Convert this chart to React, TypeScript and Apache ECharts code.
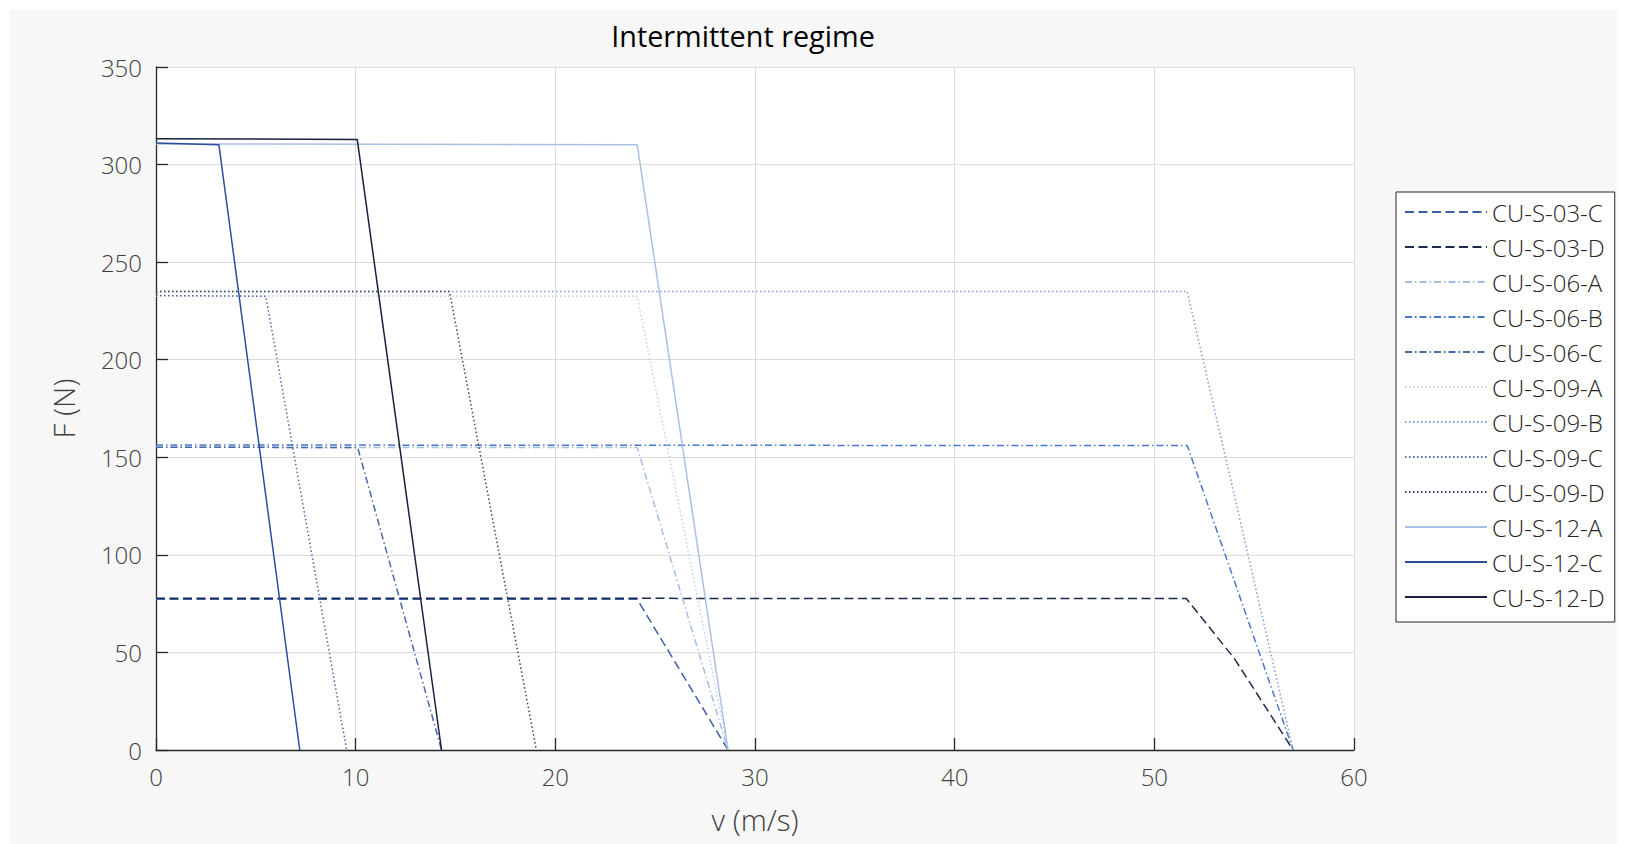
import React, { useEffect, useRef } from "react";
import * as echarts from "echarts";

// ---- data (v in m/s, F in N) ----
const seriesNames = [
  "CU-S-03-C",
  "CU-S-03-D",
  "CU-S-06-A",
  "CU-S-06-B",
  "CU-S-06-C",
  "CU-S-09-A",
  "CU-S-09-B",
  "CU-S-09-C",
  "CU-S-09-D",
  "CU-S-12-A",
  "CU-S-12-C",
  "CU-S-12-D",
];

const cuS03C: [number, number][] = [[0, 77.2], [24.1, 77.2], [28.65, 0]];
const cuS03D: [number, number][] = [[0, 77.8], [51.6, 77.6], [54.0, 47], [56.95, 0]];
const cuS06A: [number, number][] = [[0, 155.1], [24.1, 155.0], [28.65, 0]];
const cuS06B: [number, number][] = [[0, 156.3], [51.65, 156.0], [56.95, 0]];
const cuS06C: [number, number][] = [[0, 155.2], [10.1, 155.0], [14.3, 0]];
const cuS09A: [number, number][] = [[0, 232.7], [24.1, 232.5], [28.65, 0]];
const cuS09B: [number, number][] = [[0, 234.9], [51.65, 234.9], [56.95, 0]];
const cuS09C: [number, number][] = [[0, 232.9], [5.5, 232.5], [9.55, 0]];
const cuS09D: [number, number][] = [[0, 235.0], [14.7, 234.9], [19.05, 0]];
const cuS12A: [number, number][] = [[0, 310.6], [24.1, 310.2], [28.65, 0]];
const cuS12C: [number, number][] = [[0, 311.0], [3.15, 310.2], [7.2, 0]];
const cuS12D: [number, number][] = [[0, 313.2], [10.08, 312.9], [14.3, 0]];

const seriesData = [
  cuS03C, cuS03D, cuS06A, cuS06B, cuS06C, cuS09A,
  cuS09B, cuS09C, cuS09D, cuS12A, cuS12C, cuS12D,
];

const xTicks = { min: 0, max: 60, interval: 10 };
const yTicks = { min: 0, max: 350, interval: 50 };

// ---- styles ----
const DASH = [9, 4.5];
const DASHDOT = [7, 3, 1.5, 3];
const DOT = [1.5, 2.5];
const seriesColors = [
  "#3a5ea8", "#1e2b4f", "#a3bde8", "#4877d0", "#4a68a8", "#bcd0f2",
  "#7d9be0", "#4d68a8", "#3a4460", "#a9c0e6", "#2b4e9a", "#17213f",
];
const seriesDash = [
  DASH, DASH, DASHDOT, DASHDOT, DASHDOT, DOT,
  DOT, DOT, DOT, "solid", "solid", "solid",
];

const FONT = "'Open Sans', sans-serif";
const WEIGHT = 300;

export default function App() {
  const ref = useRef<HTMLDivElement>(null);

  useEffect(() => {
    if (!ref.current) return;
    const chart = echarts.init(ref.current, undefined, { renderer: "svg" });
    chart.setOption({
      animation: false,
      backgroundColor: "#f7f7f7",
      textStyle: { fontFamily: FONT },
      title: {
        text: "Intermittent regime",
        left: 733,
        top: 11,
        textAlign: "center",
        padding: 0,
        textStyle: {
          fontFamily: FONT,
          fontSize: 28.8,
          fontWeight: "normal",
          color: "#000000",
        },
      },
      grid: {
        left: 146,
        top: 57,
        width: 1198,
        height: 683,
        show: true,
        backgroundColor: "#ffffff",
        borderWidth: 0,
      },
      legend: {
        orient: "vertical",
        left: 1386,
        top: 182,
        padding: [7, 10, 12, 8],
        backgroundColor: "#ffffff",
        borderColor: "#262626",
        borderWidth: 1,
        itemWidth: 82,
        itemHeight: 14,
        itemGap: 9.0,
        data: seriesNames,
        itemStyle: { opacity: 0, borderWidth: 0 },
        textStyle: {
          fontFamily: FONT,
          fontSize: 24,
          fontWeight: WEIGHT,
          lineHeight: 26,
          color: "#262626",
        },
      },
      xAxis: {
        type: "value",
        min: xTicks.min,
        max: xTicks.max,
        interval: xTicks.interval,
        name: "v (m/s)",
        nameLocation: "middle",
        nameGap: 54,
        nameTextStyle: { fontFamily: FONT, fontSize: 29.5, fontWeight: WEIGHT, color: "#404040" },
        axisLine: { show: true, lineStyle: { color: "#262626", width: 1.3 } },
        axisTick: { show: true, inside: true, length: 12, lineStyle: { color: "#262626", width: 1.3 } },
        axisLabel: { fontFamily: FONT, fontSize: 24, fontWeight: WEIGHT, color: "#404040", margin: 14 },
        splitLine: { show: true, lineStyle: { color: "#dcdcdc", width: 1 } },
      },
      yAxis: {
        type: "value",
        min: yTicks.min,
        max: yTicks.max,
        interval: yTicks.interval,
        name: "F (N)",
        nameLocation: "middle",
        nameGap: 78,
        nameTextStyle: { fontFamily: FONT, fontSize: 29.5, fontWeight: WEIGHT, color: "#404040" },
        axisLine: { show: true, lineStyle: { color: "#262626", width: 1.3 } },
        axisTick: { show: true, inside: true, length: 12, lineStyle: { color: "#262626", width: 1.3 } },
        axisLabel: { fontFamily: FONT, fontSize: 24, fontWeight: WEIGHT, color: "#404040", margin: 14 },
        splitLine: { show: true, lineStyle: { color: "#dcdcdc", width: 1 } },
      },
      series: seriesNames.map((name, i) => ({
        name,
        type: "line",
        data: seriesData[i],
        symbol: "none",
        showSymbol: false,
        lineStyle: { color: seriesColors[i], width: 1.5, type: seriesDash[i] },
        itemStyle: { color: seriesColors[i] },
        emphasis: { disabled: true },
      })),
    });
    return () => chart.dispose();
  }, []);

  return (
    <div style={{ position: "absolute", left: 0, top: 0, width: 1627, height: 844, background: "#ffffff" }}>
      <div
        ref={ref}
        style={{ position: "absolute", left: 10, top: 10, width: 1607, height: 834 }}
      />
    </div>
  );
}
